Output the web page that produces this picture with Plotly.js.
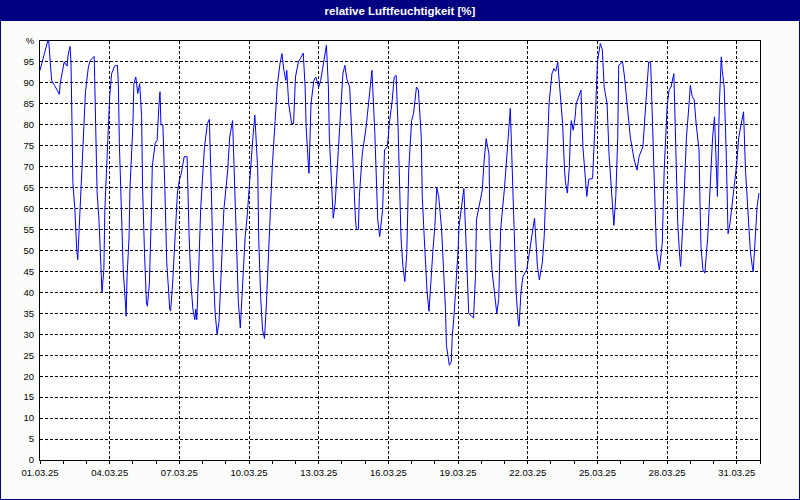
<!DOCTYPE html>
<html>
<head>
<meta charset="utf-8">
<script src="https://cdn.plot.ly/plotly-3.0.1.min.js"></script>
<style>html,body{margin:0;padding:0;background:#fbfdfb;}#chart{width:800px;height:500px;}</style>
</head>
<body>
<div id="chart"></div>
<script>
const times = [
'2025-03-01 00:00','2025-03-01 08:00','2025-03-01 09:00','2025-03-01 11:00','2025-03-01 12:00','2025-03-01 15:00','2025-03-01 20:00','2025-03-01 21:00',
'2025-03-02 01:00','2025-03-02 04:00','2025-03-02 05:00','2025-03-02 07:00','2025-03-02 08:00','2025-03-02 09:00','2025-03-02 10:00','2025-03-02 12:00','2025-03-02 13:00','2025-03-02 14:00','2025-03-02 15:00','2025-03-02 17:00','2025-03-02 20:00','2025-03-02 23:00',
'2025-03-03 02:00','2025-03-03 04:00','2025-03-03 08:00','2025-03-03 09:00','2025-03-03 10:00','2025-03-03 11:00','2025-03-03 13:00','2025-03-03 14:00','2025-03-03 15:00','2025-03-03 16:00','2025-03-03 18:00','2025-03-03 19:00','2025-03-03 21:00','2025-03-03 23:00',
'2025-03-04 00:00','2025-03-04 02:00','2025-03-04 05:00','2025-03-04 08:00','2025-03-04 09:00','2025-03-04 10:00','2025-03-04 12:00','2025-03-04 14:00','2025-03-04 16:00','2025-03-04 17:00','2025-03-04 18:00','2025-03-04 20:00','2025-03-04 21:00',
'2025-03-05 00:00','2025-03-05 01:00','2025-03-05 03:00','2025-03-05 05:00','2025-03-05 07:00','2025-03-05 09:00','2025-03-05 10:00','2025-03-05 12:00','2025-03-05 14:00','2025-03-05 15:00','2025-03-05 17:00','2025-03-05 19:00','2025-03-05 20:00','2025-03-05 23:00',
'2025-03-06 01:00','2025-03-06 03:00','2025-03-06 04:00','2025-03-06 05:00','2025-03-06 07:00','2025-03-06 09:00','2025-03-06 11:00','2025-03-06 13:00','2025-03-06 14:00','2025-03-06 15:00','2025-03-06 17:00','2025-03-06 20:00','2025-03-06 22:00',
'2025-03-07 00:00','2025-03-07 02:00','2025-03-07 05:00','2025-03-07 08:00','2025-03-07 10:00','2025-03-07 12:00','2025-03-07 14:00','2025-03-07 16:00','2025-03-07 17:00','2025-03-07 18:00','2025-03-07 20:00','2025-03-07 22:00',
'2025-03-08 00:00','2025-03-08 02:00','2025-03-08 05:00','2025-03-08 07:00','2025-03-08 09:00','2025-03-08 11:00','2025-03-08 13:00','2025-03-08 15:00','2025-03-08 17:00','2025-03-08 19:00','2025-03-08 22:00',
'2025-03-09 02:00','2025-03-09 04:00','2025-03-09 07:00','2025-03-09 10:00','2025-03-09 12:00','2025-03-09 13:00','2025-03-09 15:00','2025-03-09 17:00','2025-03-09 20:00','2025-03-09 22:00',
'2025-03-10 01:00','2025-03-10 04:00','2025-03-10 06:00','2025-03-10 09:00','2025-03-10 10:00','2025-03-10 12:00','2025-03-10 14:00','2025-03-10 16:00','2025-03-10 18:00','2025-03-10 21:00',
'2025-03-11 00:00','2025-03-11 03:00','2025-03-11 05:00','2025-03-11 08:00','2025-03-11 10:00','2025-03-11 12:00','2025-03-11 14:00','2025-03-11 15:00','2025-03-11 17:00','2025-03-11 20:00','2025-03-11 22:00',
'2025-03-12 00:00','2025-03-12 03:00','2025-03-12 05:00','2025-03-12 08:00','2025-03-12 10:00','2025-03-12 11:00','2025-03-12 13:00','2025-03-12 14:00','2025-03-12 16:00','2025-03-12 19:00','2025-03-12 21:00',
'2025-03-13 00:00','2025-03-13 02:00','2025-03-13 04:00','2025-03-13 06:00','2025-03-13 08:00','2025-03-13 10:00','2025-03-13 11:00','2025-03-13 13:00','2025-03-13 14:00','2025-03-13 15:00','2025-03-13 17:00','2025-03-13 19:00','2025-03-13 21:00','2025-03-13 23:00',
'2025-03-14 01:00','2025-03-14 03:00','2025-03-14 05:00','2025-03-14 08:00','2025-03-14 10:00','2025-03-14 12:00','2025-03-14 14:00','2025-03-14 15:00','2025-03-14 17:00','2025-03-14 18:00','2025-03-14 21:00',
'2025-03-15 01:00','2025-03-15 04:00','2025-03-15 07:00','2025-03-15 10:00','2025-03-15 12:00','2025-03-15 13:00','2025-03-15 15:00','2025-03-15 18:00','2025-03-15 20:00','2025-03-15 23:00',
'2025-03-16 01:00','2025-03-16 04:00','2025-03-16 06:00','2025-03-16 08:00','2025-03-16 10:00','2025-03-16 12:00','2025-03-16 13:00','2025-03-16 15:00','2025-03-16 17:00','2025-03-16 19:00','2025-03-16 20:00','2025-03-16 21:00',
'2025-03-17 00:00','2025-03-17 02:00','2025-03-17 05:00','2025-03-17 07:00','2025-03-17 10:00','2025-03-17 11:00','2025-03-17 13:00','2025-03-17 15:00','2025-03-17 16:00','2025-03-17 18:00','2025-03-17 19:00','2025-03-17 22:00',
'2025-03-18 00:00','2025-03-18 01:00','2025-03-18 02:00','2025-03-18 04:00','2025-03-18 05:00','2025-03-18 07:00','2025-03-18 09:00','2025-03-18 11:00','2025-03-18 12:00','2025-03-18 15:00','2025-03-18 17:00','2025-03-18 18:00','2025-03-18 20:00','2025-03-18 22:00',
'2025-03-19 00:00','2025-03-19 01:00','2025-03-19 03:00','2025-03-19 05:00','2025-03-19 06:00','2025-03-19 08:00','2025-03-19 10:00','2025-03-19 11:00','2025-03-19 16:00','2025-03-19 18:00','2025-03-19 19:00','2025-03-19 22:00',
'2025-03-20 01:00','2025-03-20 03:00','2025-03-20 05:00','2025-03-20 08:00','2025-03-20 09:00','2025-03-20 11:00','2025-03-20 14:00','2025-03-20 16:00','2025-03-20 18:00','2025-03-20 20:00',
'2025-03-21 00:00','2025-03-21 03:00','2025-03-21 06:00','2025-03-21 08:00','2025-03-21 10:00','2025-03-21 12:00','2025-03-21 14:00','2025-03-21 15:00','2025-03-21 17:00','2025-03-21 19:00','2025-03-21 23:00',
'2025-03-22 01:00','2025-03-22 04:00','2025-03-22 07:00','2025-03-22 08:00','2025-03-22 10:00','2025-03-22 12:00','2025-03-22 15:00','2025-03-22 17:00','2025-03-22 18:00','2025-03-22 20:00','2025-03-22 22:00',
'2025-03-23 01:00','2025-03-23 03:00','2025-03-23 05:00','2025-03-23 07:00','2025-03-23 09:00','2025-03-23 12:00','2025-03-23 14:00','2025-03-23 15:00','2025-03-23 17:00','2025-03-23 19:00','2025-03-23 20:00','2025-03-23 21:00','2025-03-23 23:00',
'2025-03-24 01:00','2025-03-24 02:00','2025-03-24 05:00','2025-03-24 07:00','2025-03-24 09:00','2025-03-24 11:00','2025-03-24 13:00','2025-03-24 15:00','2025-03-24 19:00','2025-03-24 22:00',
'2025-03-25 00:00','2025-03-25 03:00','2025-03-25 05:00','2025-03-25 07:00','2025-03-25 10:00','2025-03-25 12:00','2025-03-25 15:00','2025-03-25 17:00','2025-03-25 19:00','2025-03-25 21:00','2025-03-25 22:00',
'2025-03-26 02:00','2025-03-26 04:00','2025-03-26 07:00','2025-03-26 10:00','2025-03-26 14:00','2025-03-26 17:00','2025-03-26 19:00','2025-03-26 23:00',
'2025-03-27 02:00','2025-03-27 05:00','2025-03-27 07:00','2025-03-27 10:00','2025-03-27 12:00','2025-03-27 13:00','2025-03-27 16:00','2025-03-27 19:00','2025-03-27 21:00',
'2025-03-28 00:00','2025-03-28 02:00','2025-03-28 04:00','2025-03-28 07:00','2025-03-28 09:00','2025-03-28 11:00','2025-03-28 13:00','2025-03-28 14:00','2025-03-28 17:00','2025-03-28 20:00','2025-03-28 23:00',
'2025-03-29 00:00','2025-03-29 02:00','2025-03-29 04:00','2025-03-29 06:00','2025-03-29 09:00','2025-03-29 10:00','2025-03-29 11:00','2025-03-29 13:00','2025-03-29 15:00','2025-03-29 18:00','2025-03-29 21:00','2025-03-29 23:00',
'2025-03-30 01:00','2025-03-30 03:00','2025-03-30 04:00','2025-03-30 06:00','2025-03-30 08:00','2025-03-30 09:00','2025-03-30 11:00','2025-03-30 13:00','2025-03-30 14:00','2025-03-30 15:00','2025-03-30 17:00','2025-03-30 19:00','2025-03-30 21:00',
'2025-03-31 00:00','2025-03-31 02:00','2025-03-31 05:00','2025-03-31 07:00','2025-03-31 09:00','2025-03-31 12:00','2025-03-31 14:00','2025-03-31 16:00','2025-03-31 17:00','2025-03-31 20:00','2025-03-31 21:00','2025-03-31 23:00'
];
const humidity = [
93,100,100,95,90.6,89.4,87.3,90,
95,94,96.6,98.7,95,81,66,60,54,50,47.8,57.7,74.4,87.9,
93.8,95.4,96.3,84,73,64,57,53,46,40,45.4,59.7,71.6,83.9,
86.7,92.2,94,94.2,89.8,75.6,59.7,45.4,38.3,34.3,44,53,65,
80,89.8,91.4,87.5,89.8,82,65,49.3,37.5,36.7,42,58,70,75.6,
76.3,85,87.9,80,80,65,47,40,36,35.6,42,55,63.7,
66.8,68.4,72.4,72.4,54,42,36,33.5,36,33.5,45.4,59.7,
67.6,74.8,80.3,81.3,65,45.4,35,30,33,45.4,59.7,
69.2,77.1,81,59.7,43.8,37.5,31.5,40,53.3,58,
68.4,77,82.3,69.2,53,39,31,29,37.5,53,
70,81,89,94.6,97,93,90.6,93,85,80.3,80.3,
91.4,95,95.8,97.1,89,79.5,71.6,68.4,85,90.6,91.4,
89,90.6,93,96.2,99,89,77,66.8,59.7,57.7,61.3,69.2,78.7,86.7,
92.2,94.2,91,89,77,65,57.3,55,55,62.9,73,
79.5,86.7,93,78,65,57.3,53.3,59.7,74,74.8,
80.3,85.9,91.4,91.8,79.5,65,53.3,46.2,42.6,49.3,57.3,69.2,
81,82.7,89,88.3,77,62.9,53.3,45.4,40,35.5,40,50,
55.7,61.3,65,62.9,59.7,55,45.4,36,27.3,22.6,23.5,29.5,35,41.3,
50,55.7,59.7,62.9,64.8,53.3,40,35,33.9,43.8,57.3,60.5,
64.4,71.6,76.7,73,53.3,45.4,38.3,35,38.3,55,
65,74.8,83.9,69.2,55,40,33.5,31.9,40,43.8,45.4,
48.6,53.3,57.7,54,46.2,43,47,53.3,60,73,85,
92.2,93.4,92.8,95,89,80.3,69.2,66.4,63.7,70,77,81,78.7,
81.9,85,87,88.3,74.8,67.6,62.9,67,67.2,82.7,
95,99.4,98,89,85,73,61.3,56,62.9,77,94.2,
95,91.4,85,77,71.6,69.2,72.4,74.8,
85,95,94.8,74.8,58,50,45.4,51.7,69.2,
84.3,88.3,89,92.2,74,56.5,48.6,46.2,59.7,77,85.9,
89.4,86.7,86,80.3,74,61.3,51,45.4,44.6,53.3,66.8,77,
81.9,69.2,62.9,85,96.2,93,89,74,62.9,54,56.5,60.5,64.4,
70.8,77,80.7,83.1,69.2,57.3,50,46.2,45,56.5,60.5,63.7
];
const xTickValues = ['2025-03-01','2025-03-04','2025-03-07','2025-03-10','2025-03-13','2025-03-16','2025-03-19','2025-03-22','2025-03-25','2025-03-28','2025-03-31'];
const xTickLabels = ['01.03.25','04.03.25','07.03.25','10.03.25','13.03.25','16.03.25','19.03.25','22.03.25','25.03.25','28.03.25','31.03.25'];
const yTickValues = [0,5,10,15,20,25,30,35,40,45,50,55,60,65,70,75,80,85,90,95,100];
const yTickLabels = ['0','5','10','15','20','25','30','35','40','45','50','55','60','65','70','75','80','85','90','95','%'];
const chartTitle = 'relative Luftfeuchtigkeit [%]';

const W = 800, H = 500, L = 40, R = 40, T = 41, B = 40;
const pw = W - L - R, ph = H - T - B;

const trace = {
  x: times, y: humidity, type: 'scatter', mode: 'lines',
  line: {color: '#0000ff', width: 1}, hoverinfo: 'x+y'
};

const tickFont = {family: 'Liberation Sans, Arial, sans-serif', size: 9.5, color: '#000000'};

const layout = {
  width: W, height: H, autosize: false,
  margin: {l: L, r: R, t: T, b: B, pad: 0},
  paper_bgcolor: '#fbfdfb', plot_bgcolor: '#ffffff',
  showlegend: false,
  title: {
    text: chartTitle, x: 0.5, xanchor: 'center', xref: 'paper',
    y: 1 - 10.5 / H, yref: 'container', yanchor: 'middle',
    font: {family: 'Liberation Sans, Arial, sans-serif', size: 11.5, color: '#ffffff', weight: 'bold'}
  },
  xaxis: {
    type: 'date', range: ['2025-03-01 00:00', '2025-04-01 00:00'],
    tickmode: 'array', tickvals: xTickValues, ticktext: xTickLabels,
    ticks: 'outside', ticklen: 3, tickcolor: '#000', tickwidth: 1,
    ticklabelstandoff: 1,
    minor: {dtick: 86400000, tick0: '2025-03-01', ticks: 'outside', ticklen: 3, tickcolor: '#000', showgrid: false},
    showgrid: true, gridcolor: '#000000', gridwidth: 1, griddash: '3px,2px',
    showline: true, linecolor: '#000000', linewidth: 1, mirror: true,
    zeroline: false, tickfont: tickFont, fixedrange: true
  },
  yaxis: {
    range: [0, 100], tickmode: 'array', tickvals: yTickValues, ticktext: yTickLabels,
    ticks: '', ticklabelstandoff: 3,
    showgrid: true, gridcolor: '#000000', gridwidth: 1, griddash: '3px,2px',
    showline: true, linecolor: '#000000', linewidth: 1, mirror: true,
    zeroline: false, tickfont: tickFont, fixedrange: true
  },
  shapes: [
    {type: 'rect', xref: 'paper', yref: 'paper', layer: 'below',
     x0: -L / pw, x1: 1 + R / pw, y0: 1 + (T - 21) / ph, y1: 1 + T / ph,
     fillcolor: '#000080', line: {width: 0}},
    {type: 'rect', xref: 'paper', yref: 'paper', layer: 'above',
     x0: -L / pw, x1: 1 + R / pw, y0: -B / ph, y1: 1 + T / ph,
     fillcolor: 'rgba(0,0,0,0)', line: {color: '#000080', width: 2}}
  ]
};

Plotly.newPlot('chart', [trace], layout, {displayModeBar: false, staticPlot: true});
</script>
</body>
</html>
